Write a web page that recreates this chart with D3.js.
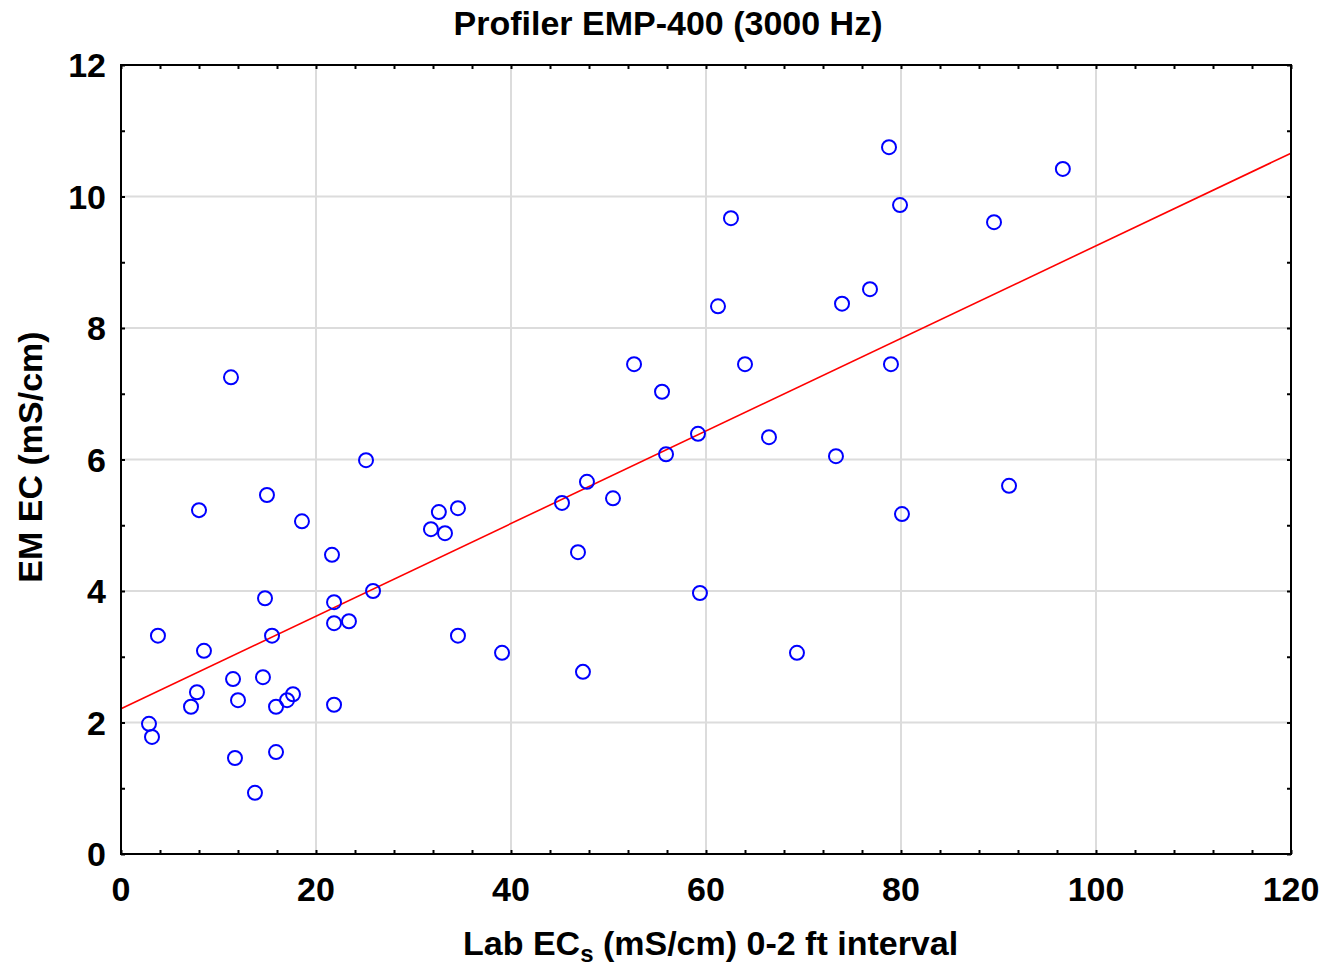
<!DOCTYPE html>
<html><head><meta charset="utf-8">
<script src="https://cdn.jsdelivr.net/npm/d3@7"></script>
<style>body{margin:0;background:#fff}text{font-family:"Liberation Sans",Arial,sans-serif;font-weight:bold}</style>
</head><body>
<svg id="c" width="1326" height="968"></svg>
<script>
const labEC = [2.87,3.18,3.79,7.18,7.79,8.0,8.51,11.28,11.49,11.69,12.0,13.74,14.56,14.77,14.97,15.49,15.9,15.9,17.03,17.64,18.56,21.64,21.85,21.85,21.85,23.38,25.13,25.85,31.79,32.6,33.23,34.56,34.56,39.08,45.23,46.87,47.38,47.79,50.46,52.62,55.49,55.9,59.18,59.38,61.23,62.56,64.0,66.46,69.33,73.33,73.95,76.82,78.77,78.97,79.9,80.1,89.54,91.08,96.6];
const emEC = [1.98,1.78,3.32,2.24,2.46,5.23,3.09,7.25,2.66,1.46,2.34,0.93,2.69,3.89,5.46,3.32,2.24,1.55,2.34,2.43,5.06,4.55,3.83,3.51,2.27,3.54,5.99,4.0,4.94,5.2,4.88,5.26,3.32,3.06,5.34,4.59,2.77,5.66,5.41,7.45,7.03,6.08,6.39,3.97,8.33,9.67,7.45,6.34,3.06,6.05,8.37,8.59,10.75,7.45,9.87,5.17,9.61,5.6,10.42];
const fitIntercept = 2.21, fitSlope = 0.0704;
const xTicks = [0,20,40,60,80,100,120];
const yTicks = [0,2,4,6,8,10,12];
const xMinor = d3.range(0,121,4);
const yMinor = d3.range(0,13,1);

const L=121,R=1291,T=65,B=854;
const svg=d3.select("#c");
const x=d3.scaleLinear().domain([0,120]).range([L,R]);
const y=d3.scaleLinear().domain([0,12]).range([B,T]);

// grid
svg.append("g").selectAll("line").data(xTicks.slice(1,-1)).join("line")
 .attr("x1",d=>x(d)).attr("x2",d=>x(d)).attr("y1",T).attr("y2",B)
 .attr("stroke","#dcdcdc").attr("stroke-width",2);
svg.append("g").selectAll("line").data(yTicks.slice(1,-1)).join("line")
 .attr("y1",d=>y(d)).attr("y2",d=>y(d)).attr("x1",L).attr("x2",R)
 .attr("stroke","#dcdcdc").attr("stroke-width",2);

// axes with inward ticks
const tl=4;
svg.append("g").attr("transform",`translate(0,${B})`).call(d3.axisBottom(x).tickValues(xMinor).tickSize(-tl).tickFormat("")).call(g=>g.select(".domain").remove());
svg.append("g").attr("transform",`translate(0,${T})`).call(d3.axisTop(x).tickValues(xMinor).tickSize(-tl).tickFormat("")).call(g=>g.select(".domain").remove());
svg.append("g").attr("transform",`translate(${L},0)`).call(d3.axisLeft(y).tickValues(yMinor).tickSize(-tl).tickFormat("")).call(g=>g.select(".domain").remove());
svg.append("g").attr("transform",`translate(${R},0)`).call(d3.axisRight(y).tickValues(yMinor).tickSize(-tl).tickFormat("")).call(g=>g.select(".domain").remove());
svg.selectAll(".tick line").attr("stroke","#000").attr("stroke-width",2);

// tick labels
svg.append("g").selectAll("text").data(xTicks).join("text")
 .attr("x",d=>x(d)).attr("y",901).attr("text-anchor","middle").attr("font-size",34).text(d=>d);
svg.append("g").selectAll("text").data(yTicks).join("text")
 .attr("x",106).attr("y",d=>y(d)+12).attr("text-anchor","end").attr("font-size",34).text(d=>d);

// regression line
svg.append("line").attr("x1",x(0)).attr("y1",y(fitIntercept)).attr("x2",x(120)).attr("y2",y(fitIntercept+fitSlope*120))
 .attr("stroke","#ff0000").attr("stroke-width",1.6);

// points
svg.append("g").selectAll("circle").data(labEC.map((d,i)=>[d,emEC[i]])).join("circle")
 .attr("cx",d=>x(d[0])).attr("cy",d=>y(d[1])).attr("r",7)
 .attr("fill","none").attr("stroke","#0000ff").attr("stroke-width",2);

// frame
svg.append("rect").attr("x",L).attr("y",T).attr("width",R-L).attr("height",B-T)
 .attr("fill","none").attr("stroke","#000").attr("stroke-width",2);

// titles
svg.append("text").attr("x",668).attr("y",35).attr("text-anchor","middle").attr("font-size",34).text("Profiler EMP-400 (3000 Hz)");
const xt=svg.append("text").attr("x",463).attr("y",955).attr("font-size",34);
xt.append("tspan").text("Lab EC");
xt.append("tspan").attr("font-size",24).attr("dy",7).text("s");
xt.append("tspan").attr("dy",-7).text(" (mS/cm) 0-2 ft interval");
svg.append("text").attr("transform","translate(42,457) rotate(-90)").attr("text-anchor","middle").attr("font-size",34).text("EM EC (mS/cm)");
</script>
</body></html>
